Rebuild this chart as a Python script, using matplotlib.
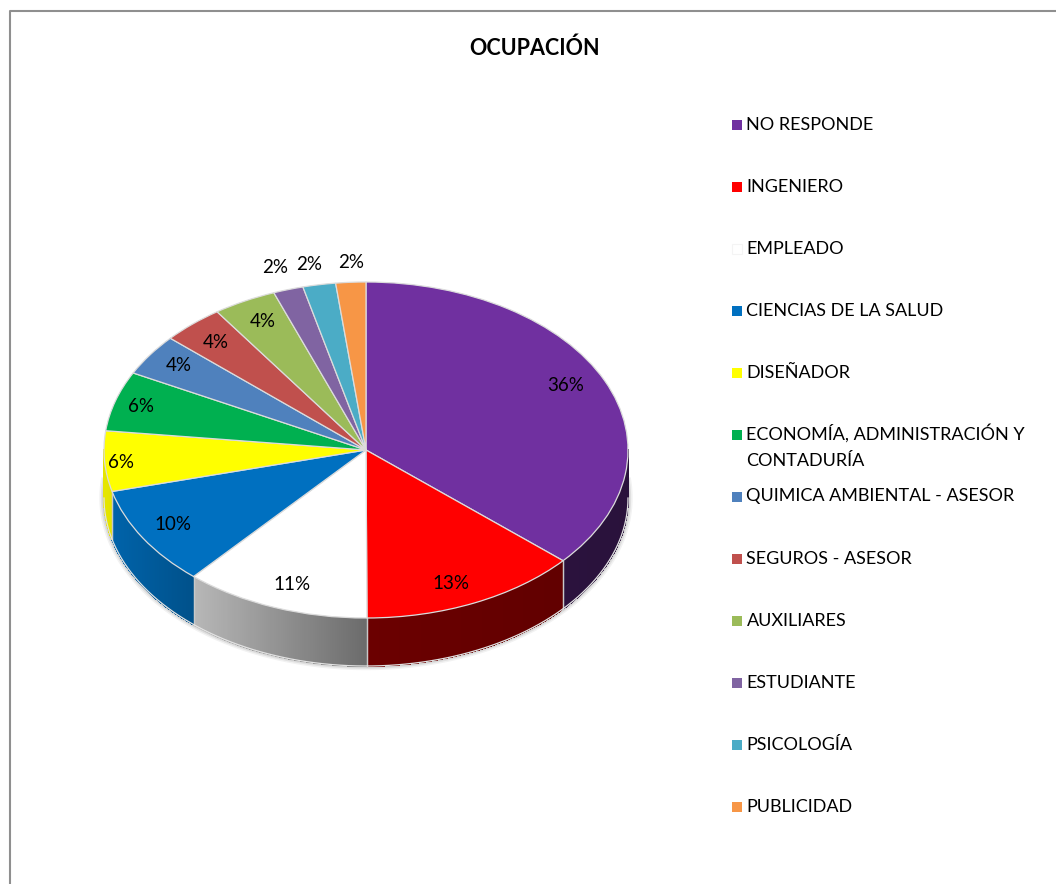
import numpy as np
import matplotlib
matplotlib.use("Agg")
import matplotlib.pyplot as plt
from matplotlib.collections import PolyCollection
from matplotlib.lines import Line2D
from matplotlib.patches import Rectangle

plt.rcParams['font.family'] = ['Lato', 'DejaVu Sans']

W, H = 1056, 884

# Occupation shares, in percent
categories = ['NO RESPONDE', 'INGENIERO', 'EMPLEADO', 'CIENCIAS DE LA SALUD', 'DISEÑADOR',
              'ECONOMÍA, ADMINISTRACIÓN Y\nCONTADURÍA', 'QUIMICA AMBIENTAL - ASESOR',
              'SEGUROS - ASESOR', 'AUXILIARES', 'ESTUDIANTE', 'PSICOLOGÍA', 'PUBLICIDAD']
shares = [36.45, 13.49, 11.49, 9.6, 5.8, 5.75, 4.0, 3.8, 3.9, 1.85, 2.02, 1.85]
colors = ['#7030A0', '#FF0000', '#FFFFFF', '#0070C0', '#FFFF00', '#00B050',
          '#4F81BD', '#C0504D', '#9BBB59', '#8064A2', '#4BACC6', '#F79646']

# Label placement: distance from the centre in pie radii, and shift along the
# circle (in percent of a full turn) from the middle of each slice
label_radii = [0.853, 0.856, 0.85, 0.861, 0.937, 0.898, 0.875, 0.861, 0.859, 1.14, 1.127, 1.115]
label_shift = [-0.7, 0.6, -0.3, 0.1, -0.2, 0.0, 0.2, -0.1, 0.1, -0.1, -0.2, 0.1]

RX, RY, CX, CY, DEPTH = 262, 168, 366, 450, 48
depth = DEPTH / RY
EDGE = '#dcdcdc'

fig = plt.figure(figsize=(W / 100, H / 100), dpi=100, facecolor='white')
ax = fig.add_axes([(CX - RX) / W, (H - CY - RY) / H, 2 * RX / W, 2 * RY / H])

# Frame of the chart area: only the left and top sides fall inside the canvas
fig.add_artist(Line2D([9.5 / W, 9.5 / W, 1], [0, 1 - 11 / H, 1 - 11 / H],
                      transform=fig.transFigure, color='#8f8f8f', lw=1.5))

# Soft shadow under the rim of the disc
t = np.linspace(np.pi / 2 - 0.12, 3 * np.pi / 2 + 0.12, 300)
for grow, alpha in [(0.018, 0.05), (0.012, 0.07), (0.006, 0.10)]:
    ax.fill((1 + grow) * np.sin(t), (1 + grow * 1.4) * np.cos(t) - depth,
            color='black', alpha=alpha, lw=0, clip_on=False, zorder=1)

def rim_shade(x):
    # The rim darkens from the left end of the disc towards the front and right
    return np.interp(x, [-1, -0.66, 0, 1], [0.90, 0.72, 0.42, 0.37])

# Rim of the disc, split into thin vertical strips so the shading varies along it
bounds = np.r_[0, np.cumsum(shares)] / sum(shares) * 2 * np.pi
for lo, hi, c in zip(bounds[:-1], bounds[1:], colors):
    a0, a1 = max(lo, np.pi / 2), min(hi, 3 * np.pi / 2)
    if a1 <= a0:
        continue
    ang = np.linspace(a0, a1, max(3, int((a1 - a0) * 120)))
    xs, ys = np.sin(ang), np.cos(ang)
    polys, fills = [], []
    base = np.array(matplotlib.colors.to_rgb(c))
    for i in range(len(ang) - 1):
        polys.append([(xs[i], ys[i]), (xs[i + 1], ys[i + 1]),
                      (xs[i + 1], ys[i + 1] - depth), (xs[i], ys[i] - depth)])
        fills.append(base * rim_shade((xs[i] + xs[i + 1]) / 2))
    ax.add_collection(PolyCollection(polys, facecolors=fills, edgecolors=fills, linewidths=0.6,
                                     antialiaseds=False, clip_on=False, zorder=2))
    # Seams between neighbouring slices
    for a in (lo, hi):
        if np.pi / 2 < a < 3 * np.pi / 2:
            ax.plot([np.sin(a)] * 2, [np.cos(a), np.cos(a) - depth], color='#c8c8c8',
                    lw=0.9, clip_on=False, zorder=3)

rim = np.linspace(np.pi / 2, 3 * np.pi / 2, 300)
ax.plot(np.sin(rim), np.cos(rim) - depth, color='#e2e2e2', lw=0.9, clip_on=False, zorder=3)

# Top face of the disc
wedges, _ = ax.pie(shares, colors=colors, startangle=90, counterclock=False, radius=1,
                   wedgeprops=dict(edgecolor=EDGE, linewidth=0.9, clip_on=False))
for w in wedges:
    w.set_zorder(4)
ax.set_aspect('auto')
ax.set_xlim(-1, 1)
ax.set_ylim(-1, 1)
ax.axis('off')

# Percentage labels near each slice's middle direction
mids = (bounds[:-1] + bounds[1:]) / 2
for share, mid, r, s in zip(shares, mids, label_radii, label_shift):
    a = mid + s / 100 * 2 * np.pi
    ax.text(r * np.sin(a), r * np.cos(a), f'{share:.0f}%', ha='center', va='center',
            fontsize=13.5, color='black', zorder=6)

fig.text(535 / W, 1 - 48 / H, 'OCUPACIÓN', ha='center', va='center', fontsize=15.5,
         fontweight='bold', color='black')

# Legend rows are evenly spaced; a wrapped entry hangs below its row
for i, (name, c) in enumerate(zip(categories, colors)):
    y = 124 + 62 * i
    fig.add_artist(Rectangle((731.5 / W, 1 - (y + 5.5) / H), 10 / W, 10 / H,
                             transform=fig.transFigure, facecolor=c,
                             edgecolor='#f4f4f4' if c == '#FFFFFF' else 'none', lw=0.8))
    for j, line in enumerate(name.split('\n')):
        fig.text(746.5 / W, 1 - (y + 5.5 + 26 * j) / H, line, ha='left', va='baseline',
                 fontsize=13, color='black')

fig.savefig('out.png', dpi=100, facecolor='white')
